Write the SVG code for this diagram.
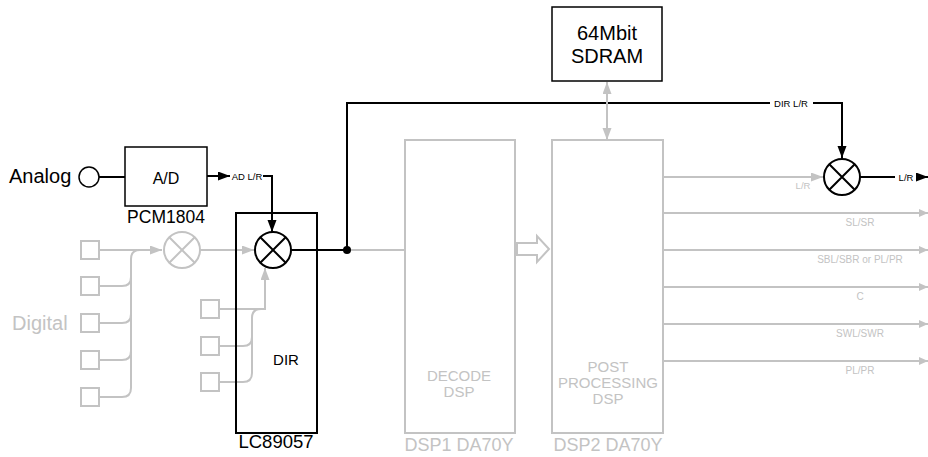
<svg xmlns="http://www.w3.org/2000/svg" width="928" height="457" viewBox="0 0 928 457">
<style>
text{font-family:"Liberation Sans",Arial,sans-serif}
.k{fill:#000}
.g{fill:#c3c3c3}
.bl{fill:none;stroke:#000;stroke-width:2}
.gl{fill:none;stroke:#c3c3c3;stroke-width:2}
.bx{fill:#fff;stroke:#000;stroke-width:1.5}
.gx{fill:#fff;stroke:#c3c3c3;stroke-width:2}
.sm{font-size:9.5px}
.so{font-size:10px}
</style>
<defs>
<marker id="ak" markerUnits="userSpaceOnUse" markerWidth="13" markerHeight="10" refX="12" refY="4.5" orient="auto"><path d="M0,0 L12,4.5 L0,9 z" fill="#000"/></marker>
<marker id="ag" markerUnits="userSpaceOnUse" markerWidth="13" markerHeight="10" refX="12" refY="4.5" orient="auto-start-reverse"><path d="M0,0 L12,4.5 L0,9 z" fill="#c3c3c3"/></marker>
<marker id="ags" markerUnits="userSpaceOnUse" markerWidth="10" markerHeight="9" refX="9" refY="4" orient="auto"><path d="M0,0 L9,4 L0,8 z" fill="#c3c3c3"/></marker>
</defs>

<g id="connectors">
<path class="bl" d="M99,177 H125"/>
<path class="bl" d="M207,176 H230" marker-end="url(#ak)"/>
<path class="bl" d="M263,176 H272 V232" marker-end="url(#ak)"/>
<path class="gl" d="M99,250 H162" marker-end="url(#ag)"/>
<path class="gl" d="M99,397 H122 Q131,397 131,388 V259 Q131,250 140,250"/>
<path class="gl" d="M99,360 H122 Q131,360 131,351"/>
<path class="gl" d="M99,323 H122 Q131,323 131,314"/>
<path class="gl" d="M99,286 H122 Q131,286 131,277"/>
<path class="gl" d="M200,250 H254" marker-end="url(#ag)"/>
<path class="gl" d="M219,309 H265 V268" marker-end="url(#ag)"/>
<path class="gl" d="M219,346 H243 Q252,346 252,337 V318 Q252,309 261,309"/>
<path class="gl" d="M219,382 H243 Q252,382 252,373 V318"/>
<path class="bl" d="M291,250 H347"/>
<path class="gl" d="M348,250 H404"/>
<path class="bl" d="M347,250 V103 H770"/>
<path class="bl" d="M813,103 H842 V158" marker-end="url(#ak)"/>
<circle cx="347" cy="250" r="4" class="k"/>
<text x="791" y="106.5" class="sm k" text-anchor="middle">DIR L/R</text>
<text x="247" y="179.5" class="sm k" text-anchor="middle">AD L/R</text>
<path class="gl" d="M607,82 V140" marker-start="url(#ag)" marker-end="url(#ag)"/>
<polygon points="517,243 537,243 537,236 549,249 537,262 537,255 517,255" class="gx"/>
<path class="gl" d="M663,177 H823" marker-end="url(#ag)"/>
<text x="803" y="189" class="sm g" text-anchor="middle">L/R</text>
<path class="bl" d="M860,177 H895"/>
<text x="906" y="180.5" class="sm k" text-anchor="middle">L/R</text>
<path class="bl" d="M916,177 H928" marker-end="url(#ak)"/>
<path class="gl" d="M663,213 H928" marker-end="url(#ags)"/>
<path class="gl" d="M663,250 H928" marker-end="url(#ags)"/>
<path class="gl" d="M663,287 H928" marker-end="url(#ags)"/>
<path class="gl" d="M663,324 H928" marker-end="url(#ags)"/>
<path class="gl" d="M663,361 H928" marker-end="url(#ags)"/>
<text x="860" y="226" class="so g" text-anchor="middle">SL/SR</text>
<text x="860" y="263" class="so g" text-anchor="middle">SBL/SBR or PL/PR</text>
<text x="860" y="300" class="so g" text-anchor="middle">C</text>
<text x="860" y="337" class="so g" text-anchor="middle">SWL/SWR</text>
<text x="860" y="374" class="so g" text-anchor="middle">PL/PR</text>
</g>

<g id="analog">
<text x="9" y="183" font-size="20" class="k">Analog</text>
<circle cx="89" cy="177" r="10" class="bx"/>
</g>

<g id="ad">
<rect x="125" y="147" width="82" height="59" class="bx"/>
<text x="166" y="184" font-size="16" class="k" text-anchor="middle">A/D</text>
<text x="166" y="223" font-size="17.5" class="k" text-anchor="middle">PCM1804</text>
</g>

<g id="digital">
<text x="12" y="330" font-size="20" class="g">Digital</text>
<rect x="81" y="241" width="18" height="18" class="gx"/>
<rect x="81" y="277" width="18" height="18" class="gx"/>
<rect x="81" y="314" width="18" height="18" class="gx"/>
<rect x="81" y="351" width="18" height="18" class="gx"/>
<rect x="81" y="388" width="18" height="18" class="gx"/>
</g>

<g id="digital-mixer">
<circle cx="182" cy="250" r="18" class="gx"/>
<path class="gl" d="M169.3,237.3 L194.7,262.7 M194.7,237.3 L169.3,262.7"/>
</g>

<g id="lc89057">
<rect x="236" y="213" width="81" height="220" fill="none" stroke="#000" stroke-width="2"/>
<text x="286" y="365" font-size="15" class="k" text-anchor="middle">DIR</text>
<text x="276" y="448" font-size="18.5" class="k" text-anchor="middle">LC89057</text>
</g>

<g id="dir-inputs">
<rect x="201" y="300" width="18" height="18" class="gx"/>
<rect x="201" y="337" width="18" height="18" class="gx"/>
<rect x="201" y="373" width="18" height="18" class="gx"/>
</g>

<g id="dir-mixer">
<circle cx="273" cy="250" r="18" fill="#fff" stroke="#000" stroke-width="2"/>
<path class="bl" d="M260.3,237.3 L285.7,262.7 M285.7,237.3 L260.3,262.7"/>
</g>

<g id="dsp1">
<rect x="405" y="140" width="110" height="293" class="gx"/>
<text x="459" y="381" font-size="15" class="g" text-anchor="middle">DECODE</text>
<text x="459" y="397" font-size="15" class="g" text-anchor="middle">DSP</text>
<text x="459" y="451" font-size="18" class="g" text-anchor="middle">DSP1 DA70Y</text>
</g>

<g id="dsp2">
<rect x="552" y="140" width="111" height="293" class="gx"/>
<text x="608" y="372" font-size="15" class="g" text-anchor="middle">POST</text>
<text x="608" y="388" font-size="15" class="g" text-anchor="middle">PROCESSING</text>
<text x="608" y="404" font-size="15" class="g" text-anchor="middle">DSP</text>
<text x="608" y="451" font-size="18" class="g" text-anchor="middle">DSP2 DA70Y</text>
</g>

<g id="sdram">
<rect x="552" y="7" width="110" height="74" class="bx"/>
<text x="607" y="40" font-size="20" class="k" text-anchor="middle">64Mbit</text>
<text x="607" y="63" font-size="20" class="k" text-anchor="middle">SDRAM</text>
</g>

<g id="output-mixer">
<circle cx="842" cy="177" r="18" fill="#fff" stroke="#000" stroke-width="2"/>
<path class="bl" d="M829.3,164.3 L854.7,189.7 M854.7,164.3 L829.3,189.7"/>
</g>
</svg>
